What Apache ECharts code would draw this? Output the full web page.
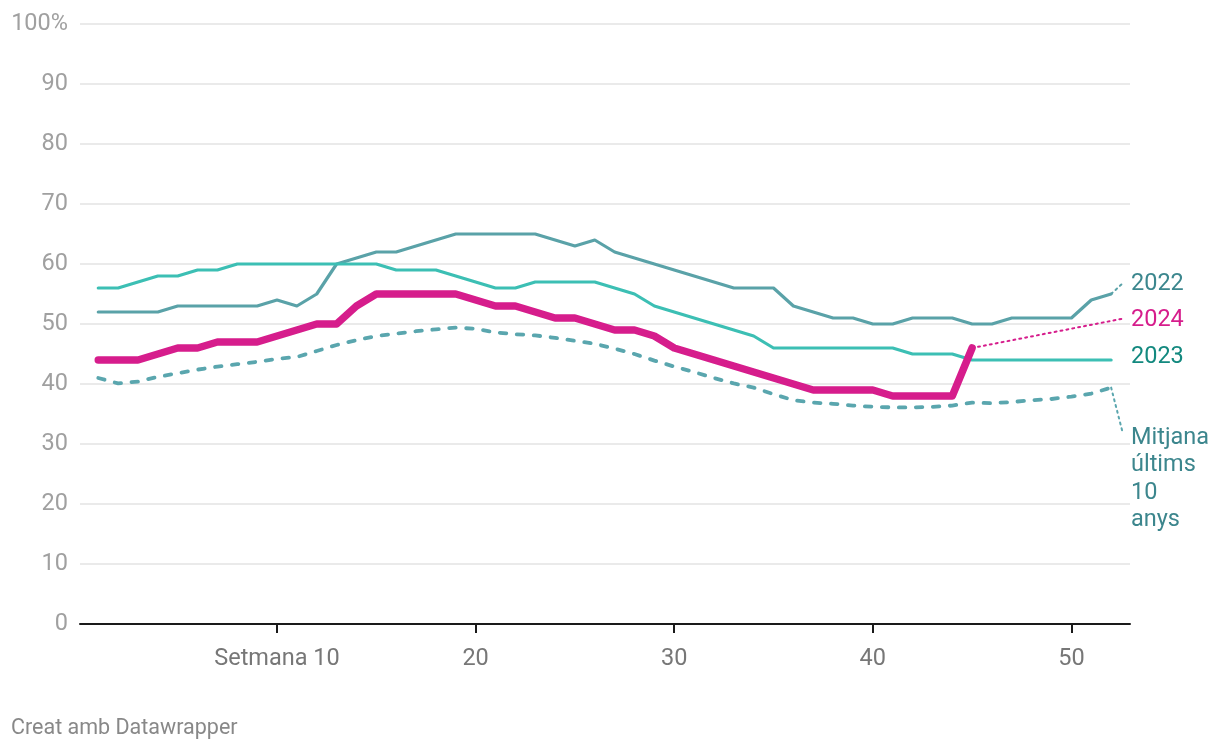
<!DOCTYPE html>
<html>
<head>
<meta charset="utf-8">
<script src="https://cdn.jsdelivr.net/npm/echarts@6/dist/echarts.min.js"></script>
<style>
html,body{margin:0;padding:0;background:#fff;}
#main{width:1220px;height:750px;}
</style>
</head>
<body>
<div id="main"></div>
<script>
const weeks = Array.from({length: 52}, (_, i) => i + 1);

const values2022 = [52,52,52,52,53,53,53,53,53,54,53,55,60,61,62,62,63,64,65,65,65,65,65,64,63,64,62,61,60,59,58,57,56,56,56,53,52,51,51,50,50,51,51,51,50,50,51,51,51,51,54,55];
const values2023 = [56,56,57,58,58,59,59,60,60,60,60,60,60,60,60,59,59,59,58,57,56,56,57,57,57,57,56,55,53,52,51,50,49,48,46,46,46,46,46,46,46,45,45,45,44,44,44,44,44,44,44,44];
const values2024 = [44,44,44,45,46,46,47,47,47,48,49,50,50,53,55,55,55,55,55,54,53,53,52,51,51,50,49,49,48,46,45,44,43,42,41,40,39,39,39,39,38,38,38,38,46];
const valuesMitjana = [41.0,40.1,40.4,41.2,41.8,42.4,42.9,43.3,43.7,44.2,44.5,45.5,46.5,47.3,48.0,48.4,48.8,49.1,49.4,49.2,48.6,48.3,48.1,47.7,47.2,46.7,45.9,45.0,43.9,42.9,42.0,41.0,40.1,39.4,38.3,37.3,36.9,36.7,36.4,36.2,36.1,36.1,36.2,36.4,36.9,36.8,37.0,37.3,37.5,37.9,38.4,39.4];

const xTickValues = [10,20,30,40,50];
const xTickLabels = ["Setmana 10","20","30","40","50"];
const yTickLabels = ["0","10","20","30","40","50","60","70","80","90","100%"];

const seriesNames = ["2022","2023","2024","Mitjana últims 10 anys"];
const labelTexts = ["2022","2023","2024","Mitjana\núltims\n10\nanys"];
// connector ends and label anchors, in data units [week, value]
const connectorEnds = [[52.65,57.0], null, [52.6,50.9], [52.55,32.3]];
const labelAnchors = [[53.0,57.0],[53.0,44.7],[53.0,51.0],[53.0,31.3]];

const lineColors = ["#5aa2a8","#3cbfb4","#d61d8c","#5aa6ae"];
const labelColors = ["#3c878e","#13897f","#d61d8c","#3c868d"];

function pairs(vals){ return vals.map((v,i)=>[weeks[i], v]); }

const chart = echarts.init(document.getElementById('main'), null, {renderer:'canvas'});

function connector(idx, startPt){
  const end = connectorEnds[idx];
  if(!end) return undefined;
  return {
    silent: true,
    symbol: ['none','none'],
    label: {show:false},
    lineStyle: {color: lineColors[idx], type: [2,4], width: 2, cap:'round'},
    emphasis: {disabled:true},
    data: [[{coord: startPt}, {coord: end}]]
  };
}

const option = {
  animation: false,
  backgroundColor: '#fff',
  grid: {left: 80, right: 90, top: 24, bottom: 126, containLabel: false},
  xAxis: {
    type: 'value',
    min: 0.08,
    max: 52.95,
    axisLine: {show: true, lineStyle: {color: '#1a1a1a', width: 2}},
    axisTick: {show: true, customValues: xTickValues, length: 9, lineStyle: {color: '#1a1a1a', width: 2}},
    axisLabel: {
      customValues: xTickValues,
      margin: 23,
      color: '#777',
      fontSize: 23.5,
      fontFamily: 'Roboto',
      formatter: function(v){ const i = xTickValues.indexOf(Math.round(v)); return i>=0 ? xTickLabels[i] : ''; }
    },
    splitLine: {show: false}
  },
  yAxis: {
    type: 'value',
    min: 0, max: 100, interval: 10,
    axisLine: {show: false},
    axisTick: {show: false},
    axisLabel: {
      margin: 12,
      color: '#a0a0a0',
      fontSize: 23.5,
      fontFamily: 'Roboto',
      formatter: function(v){ return yTickLabels[Math.round(v/10)]; }
    },
    splitLine: {show: true, lineStyle: {color: '#e3e3e3', width: 1.5}}
  },
  series: [
    {
      name: seriesNames[3], type: 'line', data: pairs(valuesMitjana), showSymbol: false, symbol:'none', z: 2,
      lineStyle: {color: lineColors[3], width: 3.8, type: [6.5,10.5], cap: 'round'},
      markLine: connector(3, [weeks[51], valuesMitjana[51]])
    },
    {
      name: seriesNames[0], type: 'line', data: pairs(values2022), showSymbol: false, symbol:'none', z: 3,
      lineStyle: {color: lineColors[0], width: 3.2, join: 'round', cap:'round'},
      markLine: connector(0, [weeks[51], values2022[51]])
    },
    {
      name: seriesNames[1], type: 'line', data: pairs(values2023), showSymbol: false, symbol:'none', z: 3,
      lineStyle: {color: lineColors[1], width: 3.2, join: 'round', cap:'round'}
    },
    {
      name: seriesNames[2], type: 'line', data: pairs(values2024), showSymbol: false, symbol:'none', z: 4,
      lineStyle: {color: lineColors[2], width: 7.5, join: 'round', cap: 'round'},
      markLine: connector(2, [weeks[values2024.length-1], values2024[values2024.length-1]])
    }
  ]
};
chart.setOption(option);

const graphics = [];
[0,1,2,3].forEach(function(i){
  const p = chart.convertToPixel({gridIndex: 0}, labelAnchors[i]);
  graphics.push({
    type: 'text',
    left: p[0], top: p[1]-12,
    silent: true,
    style: {
      text: labelTexts[i],
      fill: labelColors[i],
      font: '23.5px Roboto',
      lineHeight: 27.5,
      textVerticalAlign: 'top'
    }
  });
});
graphics.push({
  type: 'text', left: 11, top: 718, silent: true,
  style: {text: 'Creat amb Datawrapper', fill: '#888', font: '21.5px Roboto'}
});
chart.setOption({graphic: graphics});
</script>
</body>
</html>
